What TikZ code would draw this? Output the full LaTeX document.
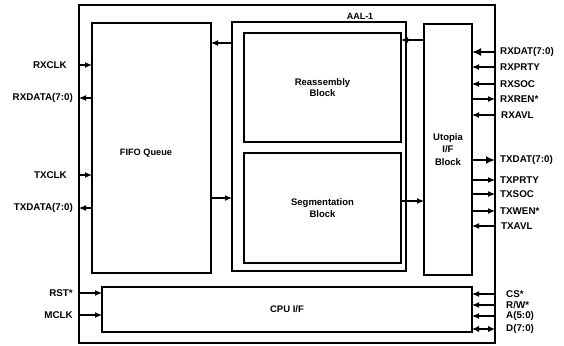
\documentclass[tikz,border=0pt]{standalone}
\usepackage{fontspec}
\setmainfont{Liberation Sans}
\usetikzlibrary{arrows.meta}
\begin{document}
\begin{tikzpicture}[x=1pt,y=-1pt,
  box/.style={draw, line width=1.2pt, inner sep=0pt, outer sep=0pt, anchor=north west, align=center, font=\bfseries\fontsize{9.5}{11.5}\selectfont},
  lbl/.style={inner sep=0pt, font=\bfseries\fontsize{9.8}{11}\selectfont},
  sig/.style={line width=1.1pt, -{Latex[length=7pt,width=6pt]}},
  bus/.style={line width=2.2pt, -{Latex[length=9pt,width=8pt]}},
  bidir/.style={line width=1.4pt, {Latex[length=7pt,width=6.5pt]}-{Latex[length=7pt,width=6.5pt]}}]
\useasboundingbox (0,0) rectangle (564,345);
% blocks
\node[box, minimum width=416pt, minimum height=338pt] (chip) at (79,5) {};
\node[box, minimum width=119pt, minimum height=250pt] (fifo) at (92,23) {};
\node[lbl, font=\bfseries\fontsize{9.2}{10}\selectfont] (fifol) at (146,153) {FIFO Queue};
\node[box, minimum width=174pt, minimum height=249pt] (aal) at (232,22) {};
\node[lbl, font=\bfseries\fontsize{9}{9}\selectfont, anchor=base] (aall) at (360,20) {AAL-1};
\node[box, minimum width=157pt, minimum height=109pt] (reasm) at (244,33) {Reassembly\\Block};
\node[box, minimum width=157pt, minimum height=110pt] (seg) at (244,153) {Segmentation\\Block};
\node[box, minimum width=48pt, minimum height=251pt, font=\bfseries\fontsize{9.5}{12.5}\selectfont] (utopia) at (424,24) {Utopia\\I/F\\Block};
\node[box, minimum width=370pt, minimum height=45pt] (cpu) at (102,287) {CPU I/F};
% left labels
\node[lbl, anchor=east] (rxclk) at (67,65) {RXCLK};
\node[lbl, anchor=east] (rxdata) at (73,98) {RXDATA(7:0)};
\node[lbl, anchor=east] (txclk) at (67,175) {TXCLK};
\node[lbl, anchor=east] (txdata) at (73,208) {TXDATA(7:0)};
\node[lbl, anchor=east] (rst) at (73,293) {RST*};
\node[lbl, anchor=east] (mclk) at (73,315) {MCLK};
\draw[sig] (rxclk.east -| chip.west) -- (rxclk.east -| fifo.west);
\draw[sig] (rxdata.east -| fifo.west) -- (rxdata.east -| chip.west);
\draw[sig] (txclk.east -| chip.west) -- (txclk.east -| fifo.west);
\draw[sig] (txdata.east -| fifo.west) -- (txdata.east -| chip.west);
\draw[sig] (rst.east -| chip.west) -- (rst.east -| cpu.west);
\draw[sig] (mclk.east -| chip.west) -- (mclk.east -| cpu.west);
% internal
\coordinate (c1) at (0,43);
\coordinate (c2) at (0,198);
\coordinate (c3) at (0,40);
\coordinate (c4) at (0,201);
\draw[sig] (c1 -| aal.west) -- (c1 -| fifo.east);
\draw[sig] (c2 -| fifo.east) -- (c2 -| aal.west);
\draw[sig] (c3 -| utopia.west) -- (c3 -| reasm.east);
\draw[sig] (c4 -| seg.east) -- (c4 -| utopia.west);
% right labels
\node[lbl, anchor=west] (rxdat) at (500,52) {RXDAT(7:0)};
\node[lbl, anchor=west] (rxprty) at (500,67) {RXPRTY};
\node[lbl, anchor=west] (rxsoc) at (500,84) {RXSOC};
\node[lbl, anchor=west] (rxren) at (500,99) {RXREN*};
\node[lbl, anchor=west] (rxavl) at (501,115) {RXAVL};
\node[lbl, anchor=west] (txdat) at (500,160) {TXDAT(7:0)};
\node[lbl, anchor=west] (txprty) at (500,180) {TXPRTY};
\node[lbl, anchor=west] (txsoc) at (500,194) {TXSOC};
\node[lbl, anchor=west] (txwen) at (500,211) {TXWEN*};
\node[lbl, anchor=west] (txavl) at (501,226) {TXAVL};
\draw[bus] (rxdat.west -| chip.east) -- (rxdat.west -| utopia.east);
\draw[sig] (rxprty.west -| chip.east) -- (rxprty.west -| utopia.east);
\draw[sig] (rxsoc.west -| chip.east) -- (rxsoc.west -| utopia.east);
\draw[sig] (rxren.west -| utopia.east) -- (rxren.west -| chip.east);
\draw[sig] (rxavl.west -| chip.east) -- (rxavl.west -| utopia.east);
\draw[bus] (txdat.west -| utopia.east) -- (txdat.west -| chip.east);
\draw[sig] (txprty.west -| utopia.east) -- (txprty.west -| chip.east);
\draw[sig] (txsoc.west -| utopia.east) -- (txsoc.west -| chip.east);
\draw[sig] (txwen.west -| utopia.east) -- (txwen.west -| chip.east);
\draw[sig] (txavl.west -| chip.east) -- (txavl.west -| utopia.east);
% CPU right
\node[lbl, anchor=west] (cs) at (506,294) {CS*};
\node[lbl, anchor=west] (rw) at (506,305) {R/W*};
\node[lbl, anchor=west] (addr) at (506,316) {A(5:0)};
\node[lbl, anchor=west] (dat) at (506,329) {D(7:0)};
\draw[sig] (cs.west -| chip.east) -- (cs.west -| cpu.east);
\draw[sig] (rw.west -| chip.east) -- (rw.west -| cpu.east);
\draw[sig] (addr.west -| chip.east) -- (addr.west -| cpu.east);
\draw[bidir] (dat.west -| cpu.east) -- (dat.west -| chip.east);
\end{tikzpicture}
\end{document}
